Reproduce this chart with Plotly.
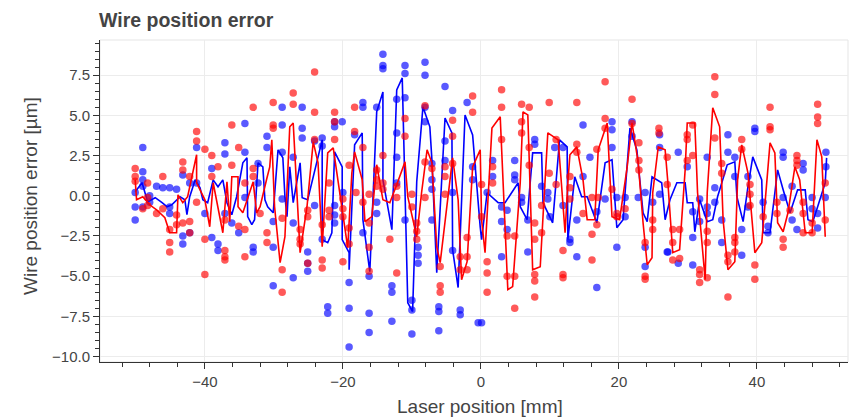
import plotly.graph_objects as go

# Blue measurement points
blue_pts = [
    (-50.1,0.2),(-50.1,-0.7),(-50.1,-1.5),
    (-49.0,3.0),(-49.0,1.5),(-49.0,1.0),(-49.0,0.6),(-49.0,-0.7),
    (-48.0,0.0),(-48.0,-0.4),
    (-47.0,0.6),(-46.1,0.5),(-45.1,0.5),(-44.1,0.4),
    (-45.1,-0.7),(-45.1,-1.1),
    (-43.2,1.3),(-43.2,-2.5),(-43.2,-3.0),
    (-42.2,-2.3),(-42.2,0.8),
    (-41.2,3.0),(-41.2,0.8),
    (-40.0,-1.1),(-39.0,-2.6),
    (-38.1,-3.0),(-38.1,-3.4),(-39.0,1.7),
    (-37.1,3.3),(-37.1,2.6),(-37.1,-1.1),
    (-36.1,-1.7),(-35.1,-2.3),
    (-34.2,4.5),(-34.2,2.7),(-34.2,-0.1),
    (-33.0,-3.2),(-33.0,-3.5),
    (-32.3,2.0),(-32.3,0.8),
    (-31.0,3.7),(-31.0,3.0),
    (-30.1,-1.6),(-30.1,-3.2),(-30.1,-5.6),
    (-28.8,5.5),(-28.8,4.4),(-28.8,2.7),(-28.8,-0.2),
    (-25.9,5.5),(-25.9,4.2),(-25.9,3.6),
    (-27.2,2.4),(-27.2,-1.7),(-27.2,-5.1),
    (-24.1,3.4),(-23.0,3.6),(-23.0,3.1),(-24.1,-0.6),
    (-25.1,-3.5),(-25.1,-4.2),(-25.1,-4.7),
    (-23.0,-2.7),(-22.2,-6.9),(-22.2,-7.3),
    (-21.2,4.6),(-20.1,4.6),(-21.2,4.3),
    (-21.2,-0.6),(-21.2,-1.2),(-21.2,-1.7),
    (-20.0,0.2),
    (-19.1,-5.4),(-19.1,-7.0),(-19.1,-9.4),
    (-18.3,3.8),
    (-17.1,5.8),(-17.1,5.5),(-17.1,-2.3),
    (-16.2,-5.0),(-16.2,-7.3),(-16.2,-8.5),
    (-15.1,5.5),(-15.1,-0.4),(-15.1,-1.1),
    (-14.2,8.8),(-14.2,8.1),(-14.2,7.9),
    (-12.9,-5.6),(-12.9,-6.0),(-12.9,-7.8),
    (-12.2,6.0),(-12.2,3.9),(-12.2,2.4),(-12.2,0.8),
    (-11.0,8.1),(-11.0,7.6),(-11.0,6.1),(-11.0,-1.5),
    (-10.0,-6.5),(-10.0,-7.1),(-10.0,-8.6),
    (-9.1,-3.2),(-9.1,-3.7),(-9.1,-4.2),
    (-8.1,8.3),(-8.1,7.5),(-8.1,5.5),(-8.1,4.6),
    (-7.1,2.0),(-7.1,1.0),(-7.1,0.4),(-7.1,-1.5),
    (-6.1,-6.9),(-6.1,-7.2),(-6.1,-8.4),
    (-5.2,6.8),(-5.2,3.4),(-5.2,2.2),
    (-4.1,5.3),(-4.1,0.2),(-4.1,-3.4),
    (-3.0,-7.1),(-3.0,-7.4),
    (-2.0,5.8),(-1.2,1.8),(-1.2,1.0),(-0.4,-7.9),
    (0.1,-7.9),(0.9,0.2),(1.7,2.2),(1.7,1.2),
    (3.0,-0.7),(3.0,-1.6),(3.0,-3.8),
    (3.8,-0.9),(3.8,-2.1),
    (4.9,2.2),(4.9,1.3),(4.9,1.0),
    (5.9,-0.1),(5.9,-0.4),
    (6.8,-3.5),(6.8,-1.5),
    (7.8,3.5),(7.8,3.2),(8.8,0.6),
    (9.7,0.2),(9.7,-0.2),(10.0,-1.3),
    (10.7,3.0),(11.9,3.0),(11.9,-0.6),
    (12.9,-2.7),(12.9,-2.9),
    (13.9,-1.5),(13.9,-3.8),
    (14.8,4.4),(14.8,1.2),(15.8,2.4),
    (16.8,-1.0),(16.8,-5.7),(18.0,-0.2),
    (19.0,4.6),(19.0,4.1),(19.0,3.0),
    (19.7,-0.1),(19.7,-3.2),
    (20.9,-0.1),(20.9,-1.3),
    (21.9,4.6),(21.9,3.7),(22.8,-0.1),
    (23.8,0.2),(23.8,-3.2),(23.8,-4.4),
    (24.9,-0.4),
    (25.9,3.8),(25.9,3.0),(25.9,0.1),
    (27.0,-3.5),
    (28.6,2.7),(29.9,1.8),(28.6,-4.2),(27.1,-3.5),
    (30.7,-1.0),(30.7,-4.3),(30.7,-2.6),
    (31.7,-0.2),(31.7,-1.6),
    (32.8,2.4),(32.8,-0.7),(32.8,-1.1),
    (33.9,0.5),(33.9,-0.4),
    (34.9,-1.5),(34.9,-2.9),
    (35.8,3.8),(35.8,2.7),
    (36.8,2.4),(36.8,1.2),
    (37.8,-2.1),(37.8,-3.7),
    (38.7,1.2),(38.7,-0.7),
    (39.7,4.2),(39.7,4.0),
    (40.9,-0.4),(41.6,-1.9),(41.6,-2.3),
    (43.8,2.7),(43.8,2.4),(43.8,-0.1),
    (45.1,0.6),(45.1,-1.5),(45.8,-2.1),
    (46.7,2.0),(46.7,1.6),
    (48.0,-0.1),(48.0,-0.8),
    (48.8,-1.1),(48.8,-2.0),
    (50.0,2.7),(50.0,1.8),(49.9,-0.1),
]

# Red measurement points
red_pts = [
    (-50.1,1.7),(-50.1,1.2),(-50.1,0.9),(-49.0,-0.8),
    (-48.3,0.8),(-48.3,-0.1),(-48.3,-0.6),(-47.0,-1.1),
    (-46.1,1.2),(-46.1,-0.8),
    (-45.1,-2.1),(-45.1,-2.9),(-45.1,-3.5),
    (-44.1,-1.2),(-44.1,-1.8),
    (-43.2,2.1),(-43.2,1.6),(-43.2,-1.7),
    (-42.2,1.2),(-42.2,-1.6),(-42.2,-2.3),
    (-41.2,4.0),(-41.2,3.4),(-41.2,-0.4),
    (-40.0,2.9),(-39.0,2.5),(-40.0,-2.7),(-40.0,-4.9),
    (-39.0,1.2),(-38.1,1.8),
    (-37.1,-3.4),(-37.1,-3.8),(-37.1,-4.0),(-37.1,-1.5),
    (-36.1,4.4),(-36.1,1.9),
    (-35.1,3.0),(-35.1,-1.9),
    (-34.2,-2.1),(-34.2,-3.8),(-34.2,0.8),
    (-33.0,5.5),(-33.0,1.7),(-33.0,1.2),
    (-32.0,-1.1),(-31.0,-2.3),(-31.0,-2.9),
    (-30.1,5.8),(-30.1,4.4),(-30.1,4.2),
    (-28.8,-4.6),(-28.8,-6.0),(-28.8,-1.4),
    (-27.2,6.4),(-27.2,5.7),
    (-26.2,-2.1),(-26.2,-2.7),(-26.2,-3.0),
    (-25.1,-0.9),(-25.1,-1.3),(-25.1,-4.2),
    (-24.1,7.7),(-24.1,5.2),(-24.1,3.5),
    (-23.0,-1.8),(-23.0,-4.0),(-23.0,-4.5),
    (-22.0,0.8),(-22.0,-0.9),(-22.0,-1.3),
    (-21.2,5.2),(-21.2,4.6),(-21.2,3.5),
    (-20.0,-0.2),(-20.0,-0.8),(-20.0,-1.3),(-20.0,-4.1),
    (-19.1,-2.0),(-19.1,-3.0),(-19.1,1.9),
    (-18.3,5.5),(-18.3,4.0),(-18.1,0.2),
    (-17.1,3.0),(-17.1,-0.4),
    (-16.2,0.1),(-16.2,-1.7),(-16.2,-3.2),(-16.2,-4.7),
    (-15.1,1.6),(-15.1,1.0),(-15.1,0.6),
    (-14.2,2.5),(-14.2,0.8),(-14.2,0.4),
    (-13.2,-2.7),
    (-12.2,0.6),(-12.2,-0.1),(-12.2,-4.8),
    (-11.0,4.8),(-11.0,3.7),
    (-10.0,0.1),(-10.0,-0.7),
    (-9.3,-1.7),(-9.3,-2.2),(-9.3,-2.7),
    (-8.1,5.6),(-8.1,2.1),(-8.1,-0.1),(-7.1,1.7),
    (-5.9,-5.6),(-5.9,-6.0),(-5.9,-4.4),
    (-5.2,1.8),(-5.2,1.2),(-5.2,0.1),
    (-4.1,4.7),(-4.1,3.7),(-4.1,2.0),
    (-3.0,-3.8),(-3.0,-4.6),(-2.0,-3.8),(-2.0,-4.6),(-2.0,-2.6),
    (-1.2,6.2),(-1.2,5.2),
    (0.1,0.7),(0.1,-1.3),
    (0.9,-4.1),(0.9,-4.8),(0.9,-6.0),
    (1.7,1.8),(1.7,0.8),
    (3.0,6.6),(3.0,5.5),(3.0,3.5),
    (3.8,-2.5),(3.8,-5.0),
    (4.9,-2.5),(4.9,-5.0),(4.9,-7.0),
    (5.9,5.7),(5.9,4.6),(5.9,3.9),
    (7.0,5.5),(7.0,3.0),(7.0,1.9),
    (7.8,-1.7),(7.8,-2.7),(7.8,-4.9),(7.8,-5.3),(7.8,-6.3),
    (8.8,-0.6),(8.8,-2.3),
    (9.9,5.8),(9.9,1.4),(10.9,0.7),(10.9,3.5),
    (11.9,-4.9),(11.9,-5.1),(11.9,-3.4),
    (12.9,1.2),(12.9,0.5),(12.9,-0.2),
    (13.9,5.8),(13.9,3.2),(13.9,2.7),
    (14.8,-1.1),
    (16.1,-2.4),(16.1,-4.0),(16.1,-0.1),
    (16.8,2.9),(16.8,-1.8),(17.0,-0.1),
    (18.0,7.1),(18.0,4.8),(18.0,4.2),
    (19.0,0.4),(19.7,-1.1),(19.7,-1.3),(20.9,-0.8),
    (21.9,6.0),(21.9,4.5),
    (22.9,3.3),(22.9,2.2),(22.9,1.6),
    (23.8,-2.9),(23.8,-5.0),(23.8,-5.2),
    (24.9,-1.5),(24.9,-2.1),
    (25.8,4.2),(25.8,3.9),
    (27.0,0.7),(27.0,2.4),
    (27.8,-2.1),(27.8,-2.9),(27.8,-4.0),
    (28.8,-2.1),(28.8,-3.9),
    (29.9,3.8),(29.9,3.5),(29.9,2.2),
    (30.7,4.4),(30.7,2.5),
    (31.7,-4.6),(31.7,-4.9),(31.7,-5.4),
    (32.8,-2.2),(32.8,-2.9),(32.8,-5.1),
    (33.9,7.4),(33.9,6.3),(33.9,3.6),
    (34.9,2.0),(34.9,1.4),
    (35.8,-3.7),(35.8,-4.1),(35.8,-6.3),
    (36.8,-2.6),(36.8,-2.9),(36.8,-3.5),
    (37.8,3.5),(37.8,2.9),
    (39.0,0.7),(39.0,0.1),(39.0,-0.6),
    (39.7,-4.3),(39.7,-5.2),
    (40.9,-1.3),
    (41.9,5.5),(41.9,4.3),(41.9,4.1),
    (42.9,-0.4),(42.9,-1.1),
    (43.8,-2.7),(43.8,-3.2),
    (44.8,-0.9),
    (45.8,2.5),(45.8,2.2),(45.8,1.9),
    (46.7,-0.4),(46.7,-1.1),(46.7,-2.3),
    (48.0,-1.7),(48.0,-2.3),
    (48.8,5.7),(48.8,4.9),(48.8,4.5),
    (49.9,0.8),(49.9,-1.5),
]

# Blue line path
blue_line = [
    (-50.1,0.25),(-49.1,0.81),(-48.3,-0.37),(-47.2,-0.12),(-46.2,-0.43),(-45.5,-0.68),
    (-44.8,-0.56),(-43.6,-0.06),(-42.9,-0.25),(-42.6,-1.18),(-42.2,-0.06),(-41.4,0.99),
    (-40.7,0.50),(-40.3,-0.25),(-39.6,-0.43),(-38.8,0.99),(-38.1,0.56),(-37.4,0.99),
    (-36.8,-0.43),(-36.1,-1.18),(-35.4,-0.06),(-34.5,2.05),(-33.9,2.36),(-33.8,-1.30),
    (-33.2,-1.80),(-32.8,-1.49),(-32.3,2.05),(-31.6,1.80),(-31.3,-0.25),(-30.9,-0.68),
    (-30.1,-1.06),(-29.4,2.86),(-28.7,2.36),(-28.4,-0.06),(-28.1,-1.30),
    (-27.7,1.80),(-27.2,-0.43),(-26.2,2.05),(-25.9,-0.12),(-25.1,-0.25),(-23.0,3.48),
    (-23.0,-2.73),(-22.2,-2.92),(-21.6,-2.30),(-21.2,2.73),(-20.1,1.80),(-20.1,-2.73),
    (-19.1,-3.54),(-19.1,-4.60),(-18.3,3.17),(-17.2,3.91),(-17.1,-1.49),(-16.1,-4.72),
    (-15.1,5.22),(-14.2,6.46),(-14.2,0.99),(-12.9,-2.11),(-12.2,6.58),(-11.4,7.33),
    (-11.0,-0.25),(-10.6,-6.65),(-9.9,-7.20),(-9.3,0.87),(-8.4,5.53),(-7.4,4.29),
    (-7.1,2.24),(-6.4,-4.78),(-5.2,4.84),(-4.2,3.91),(-4.1,-3.35),(-3.3,-5.71),
    (-2.3,5.03),(-1.2,3.79),
    (-0.1,-1.93),(0.1,-2.73),(0.9,0.19),(2.5,-0.43),(3.5,-0.43),(5.4,0.81),(5.7,-0.68),
    (6.7,-1.49),(7.5,2.67),(8.8,2.67),(9.0,-0.43),(10.4,-1.68),(11.4,3.48),(12.5,3.04),
    (12.6,-2.73),(13.6,1.18),(14.6,-0.06),(15.4,-0.06),(16.8,-1.68),(18.0,2.05),
    (19.0,2.24),(19.7,-1.99),(20.6,-1.49),(21.6,4.22),(22.6,2.86),(23.5,-1.06),
    (24.1,-1.61),(24.8,1.18),(26.2,0.81),
    (26.7,-1.49),(27.4,-0.25),(28.4,0.81),(29.6,0.81),(29.9,-0.43),(30.7,-0.43),
    (31.0,-2.24),(31.7,-0.25),(32.8,-1.61),(33.6,-1.49),(34.3,-0.06),(35.7,1.93),
    (36.8,2.11),(37.1,-0.06),(38.0,-1.61),(38.7,0.56),(39.4,2.42),(40.7,0.99),
    (40.9,-2.30),(41.9,-2.30),(42.6,0.19),(43.0,1.61),(43.8,0.37),(44.8,-1.06),
    (45.9,0.37),(47.0,0.37),(47.4,-1.49),(48.1,-1.61),(48.8,-0.68),(49.9,0.81),(50.1,2.36),
]

# Red line path
red_line = [
    (-50.1,0.99),(-49.9,-0.25),(-49.0,-0.06),(-48.0,-0.56),(-47.0,-0.87),(-45.8,-1.37),
    (-45.1,-2.30),(-44.1,-2.30),(-43.9,0.06),(-43.2,-0.43),(-42.5,-0.06),(-41.2,2.55),
    (-41.2,0.81),(-40.0,-0.25),(-39.3,-1.93),(-38.8,0.81),(-37.4,-2.30),(-36.8,0.87),
    (-36.4,-1.61),(-36.1,1.18),(-35.2,1.18),(-35.2,-0.68),(-34.5,-1.06),(-33.9,-0.25),
    (-33.0,0.87),(-32.5,-1.06),(-32.0,-0.68),(-31.0,1.12),(-30.6,1.80),(-30.3,3.48),
    (-29.9,-0.68),(-29.1,-4.16),(-28.4,-2.55),
    (-27.7,4.29),(-27.2,4.53),(-26.2,-3.54),(-25.2,-0.68),(-24.3,3.35),(-23.6,2.05),
    (-23.0,-3.17),(-22.2,2.67),(-21.4,2.98),(-20.1,-1.06),(-19.3,-3.23),(-18.7,1.43),
    (-18.3,2.73),(-17.2,0.99),(-16.8,-1.61),(-15.8,-1.30),(-15.1,1.93),(-14.2,-0.25),
    (-13.2,-0.43),(-12.2,0.68),(-11.0,2.11),(-10.6,-0.06),(-9.3,-2.55),(-8.6,0.19),
    (-7.8,2.86),(-7.1,2.05),(-6.4,-3.17),(-5.9,-4.16),(-5.2,-1.49),(-4.1,2.36),
    (-3.3,-0.25),(-2.8,-5.22),(-2.0,-4.10),(-1.2,1.80),
    (-0.1,2.86),(0.1,-1.49),(0.6,-3.54),(1.6,4.22),(2.8,4.91),(3.9,-5.84),(4.6,-5.65),
    (5.7,0.81),(6.1,5.22),(6.8,5.03),(7.5,-4.60),(8.6,-4.41),(9.0,-1.30),(9.7,3.91),
    (11.2,3.48),(12.2,-2.30),(12.6,0.81),(12.9,2.55),(13.9,3.04),(14.8,0.99),
    (15.4,-1.49),(16.5,-1.49),(17.0,2.86),(18.0,4.10),(18.3,4.53),(19.0,-1.30),
    (20.1,-1.49),(21.2,1.80),(21.9,4.53),(22.8,2.05),(23.5,-1.68),(24.1,-4.29),
    (24.8,-3.85),(24.9,0.19),(25.7,3.04),
    (26.7,2.86),(27.1,0.81),(27.8,-3.54),(28.8,-3.35),(29.6,1.61),(29.9,4.53),
    (31.0,4.53),(31.4,0.19),(32.5,-5.22),(32.8,0.19),(33.6,5.47),(34.6,4.29),
    (35.1,-1.49),(35.8,-4.60),(36.8,-4.10),(37.2,0.99),(37.8,3.17),(38.7,1.43),
    (39.7,-3.54),(40.7,-2.92),(41.9,3.29),(42.6,2.67),(43.0,-1.68),(43.8,-2.24),
    (44.5,-1.06),(45.5,1.80),(46.2,0.99),(47.0,-2.30),(48.0,-2.30),(48.7,3.48),
    (49.4,2.42),(49.9,-2.55),
]

x_ticks = [-40, -20, 0, 20, 40]
x_tick_text = ["\u221240", "\u221220", "0", "20", "40"]
y_ticks = [-10.0, -7.5, -5.0, -2.5, 0.0, 2.5, 5.0, 7.5]
y_tick_text = ["\u221210.0", "\u22127.5", "\u22125.0", "\u22122.5", "0.0", "2.5", "5.0", "7.5"]

FONT = "Liberation Sans, Arial, sans-serif"

fig = go.Figure()
fig.add_trace(go.Scatter(
    x=[p[0] for p in blue_pts], y=[p[1] for p in blue_pts], mode="markers",
    marker=dict(color="rgba(0,0,255,0.65)", size=7.5, line=dict(width=0)), showlegend=False))
fig.add_trace(go.Scatter(
    x=[p[0] for p in blue_line], y=[p[1] for p in blue_line], mode="lines",
    line=dict(color="blue", width=1.6), showlegend=False))
fig.add_trace(go.Scatter(
    x=[p[0] for p in red_pts], y=[p[1] for p in red_pts], mode="markers",
    marker=dict(color="rgba(255,0,0,0.65)", size=7.5, line=dict(width=0)), showlegend=False))
fig.add_trace(go.Scatter(
    x=[p[0] for p in red_line], y=[p[1] for p in red_line], mode="lines",
    line=dict(color="red", width=1.6), showlegend=False))

axis_common = dict(
    showline=True, linecolor="#333", linewidth=1, mirror=False,
    ticks="outside", ticklen=6, tickcolor="#333", tickwidth=1,
    showgrid=True, gridcolor="#ececec", gridwidth=1, zeroline=False,
    tickfont=dict(family=FONT, size=15, color="#444"),
)

fig.update_xaxes(
    range=[-55.2, 53.2], tickvals=x_ticks, ticktext=x_tick_text,
    minor=dict(dtick=4, tick0=0, ticks="outside", ticklen=4, tickcolor="#333", showgrid=False),
    **axis_common)
fig.update_yaxes(
    range=[-10.34, 9.69], tickvals=y_ticks, ticktext=y_tick_text,
    minor=dict(dtick=0.5, tick0=0, ticks="outside", ticklen=4, tickcolor="#333", showgrid=False),
    **axis_common)

fig.update_layout(
    width=850, height=418,
    margin=dict(l=100, r=2, t=40, b=56),
    paper_bgcolor="white", plot_bgcolor="white",
    title=dict(text="<b>Wire position error</b>", x=99/850, xanchor="left",
               y=1 - 20/418, yanchor="middle",
               font=dict(family=FONT, size=19.5, color="#444")),
    shapes=[dict(type="rect", xref="paper", yref="paper", x0=0, x1=1, y0=0, y1=1,
                 line=dict(color="#e5e5e5", width=1), layer="below")],
    annotations=[
        dict(text="Laser position [mm]", xref="paper", yref="paper",
             x=(480 - 100) / 748, y=(362 - 406) / 322, xanchor="center", yanchor="middle",
             showarrow=False, font=dict(family=FONT, size=19, color="#444")),
        dict(text="Wire position error [\u00b5m]", xref="paper", yref="paper",
             x=(30 - 100) / 748, y=(362 - 196) / 322, xanchor="center", yanchor="middle",
             textangle=-90, showarrow=False, font=dict(family=FONT, size=19, color="#444")),
    ],
)

fig.write_html("out.html")
